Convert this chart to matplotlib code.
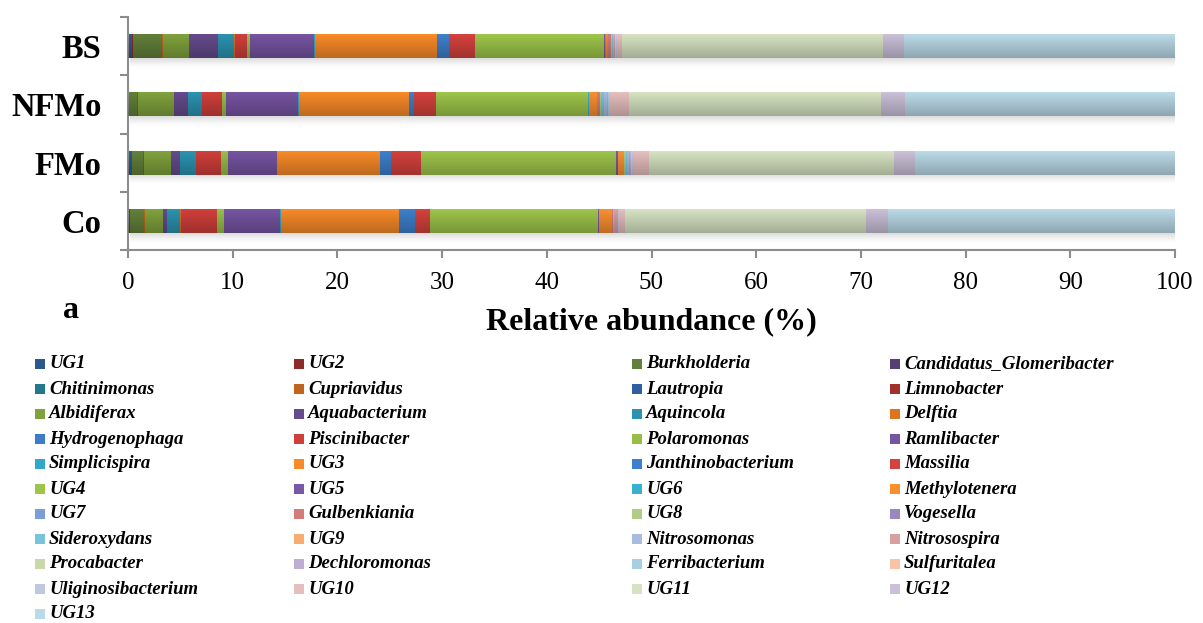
import numpy as np
import matplotlib.pyplot as plt
from matplotlib.patches import Rectangle

plt.rcParams["font.family"] = ["Liberation Serif", "DejaVu Serif"]

groups = ["Co", "FMo", "NFMo", "BS"]

species = [
    "UG1", "UG2", "Burkholderia", "Candidatus_Glomeribacter",
    "Chitinimonas", "Cupriavidus", "Lautropia", "Limnobacter",
    "Albidiferax", "Aquabacterium", "Aquincola", "Delftia",
    "Hydrogenophaga", "Piscinibacter", "Polaromonas", "Ramlibacter",
    "Simplicispira", "UG3", "Janthinobacterium", "Massilia",
    "UG4", "UG5", "UG6", "Methylotenera",
    "UG7", "Gulbenkiania", "UG8", "Vogesella",
    "Sideroxydans", "UG9", "Nitrosomonas", "Nitrosospira",
    "Procabacter", "Dechloromonas", "Ferribacterium", "Sulfuritalea",
    "Uliginosibacterium", "UG10", "UG11", "UG12",
    "UG13",
]

colors = [
    "#2c5890", "#8e2a28", "#63803a", "#553f75",
    "#23788c", "#c0651e", "#2f5f9e", "#a3302d",
    "#7fa23c", "#654b8c", "#2b93b0", "#dc7420",
    "#3d7cc8", "#cf3f3b", "#98be48", "#7654a2",
    "#31a8ca", "#f88a28", "#3e80cc", "#d4423e",
    "#9ec54a", "#7a58a8", "#38b0d0", "#f99030",
    "#7b9ed6", "#d47c7a", "#b0cc88", "#9c88be",
    "#78c2da", "#f9ac70", "#a8bce0", "#d8a0a0",
    "#c8d8a8", "#bfaed3", "#a6d0e0", "#f9c4a4",
    "#c0c8e0", "#e6bebe", "#d6e3c2", "#cac0d8",
    "#bbdae8",
]

# relative abundance (%) per sample, same order as species
co = [0, 0.16, 1.40, 0, 0, 0.06, 0, 0, 1.72, 0.38, 1.25, 0.10,
      0, 3.43, 0.67, 5.35, 0.13, 11.23, 1.53, 1.43, 16.07, 0.10, 0, 1.23,
      0, 0.05, 0.08, 0, 0, 0.04, 0.03, 0.35, 0, 0, 0, 0.02,
      0.05, 0.61, 23.02, 2.10, 27.41]
fmo = [0.35, 0, 1.08, 0, 0.10, 0, 0, 0, 2.58, 0.86, 1.53, 0,
       0, 2.38, 0.67, 4.68, 0, 9.84, 1.05, 2.87, 18.61, 0.20, 0, 0.57,
       0, 0.05, 0.10, 0.05, 0.05, 0.05, 0.15, 0.10, 0.03, 0.05, 0.05, 0.10,
       0.05, 1.56, 23.40, 2.01, 24.83]
nfmo = [0, 0, 0.89, 0, 0.07, 0, 0, 0, 3.40, 1.37, 1.31, 0,
        0, 1.94, 0.38, 6.88, 0.12, 10.48, 0.45, 2.13, 14.51, 0, 0.13, 0.74,
        0, 0.30, 0.05, 0.05, 0.25, 0.05, 0.25, 0.05, 0.02, 0.05, 0.03, 0.02,
        0.05, 1.88, 24.07, 2.29, 25.79]
bs = [0.35, 0.10, 2.83, 0, 0, 0.09, 0, 0, 2.45, 2.78, 1.50, 0.12,
      0, 1.15, 0.28, 6.12, 0.13, 11.60, 1.16, 2.48, 12.32, 0.12, 0.08, 0.10,
      0.12, 0.25, 0.05, 0.05, 0.05, 0.12, 0.05, 0.05, 0.02, 0.02, 0.02, 0.08,
      0.02, 0.54, 24.88, 2.02, 25.90]

W, H = 1203, 623
fig = plt.figure(figsize=(W / 100, H / 100), dpi=100)
ax = fig.add_axes([128 / W, 1 - 250 / H, (1175 - 128) / W, (250 - 17) / H])

data = np.array([co, fmo, nfmo, bs])
ypos = np.arange(len(groups))
bar_h = 0.41
lefts = np.zeros(len(groups))
for j, name in enumerate(species):
    ax.barh(ypos, data[:, j], left=lefts, height=bar_h, color=colors[j],
            linewidth=0, zorder=2, label=name)
    lefts += data[:, j]

# shading on the bars and soft shadow below them
shade = np.zeros((60, 1, 4))
shade[:, 0, 3] = np.linspace(0.0, 0.24, 60)
drop = np.zeros((30, 1, 4))
drop[:, 0, :3] = 0.45
drop[:, 0, 3] = np.linspace(0.35, 0.0, 30) ** 1.3
for y in ypos:
    ax.imshow(shade, extent=[0, lefts[y], y - bar_h / 2, y + bar_h / 2],
              aspect="auto", interpolation="bilinear", zorder=3)
    ax.imshow(drop, extent=[0.2, lefts[y] + 0.3, y - bar_h / 2 - 0.17, y - bar_h / 2],
              aspect="auto", interpolation="bilinear", zorder=1)

ax.set_xlim(0, 100)
ax.set_ylim(-0.5, len(groups) - 0.5)
ax.set_xticks(np.arange(0, 101, 10))
ax.set_yticks(ypos)
ax.set_yticklabels(groups)
ax.set_yticks(np.arange(-0.5, len(groups), 1), minor=True)

for side in ["top", "right"]:
    ax.spines[side].set_visible(False)
for side in ["left", "bottom"]:
    ax.spines[side].set_color("#8c8c8c")
    ax.spines[side].set_linewidth(1.5)

ax.tick_params(axis="x", direction="out", length=6, width=1.5, color="#8c8c8c",
               labelsize=18, pad=10)
ax.tick_params(axis="y", which="major", length=0, labelsize=23.5, pad=19)
ax.tick_params(axis="y", which="minor", direction="out", length=6, width=1.5,
               color="#8c8c8c")
for lab in ax.get_yticklabels():
    lab.set_fontweight("bold")

fig.text(651 / W, 1 - 322 / H, "Relative abundance (%)", ha="center", va="center",
         fontsize=23, fontweight="bold")
fig.text(71 / W, 1 - 318 / H, "a", ha="center", va="baseline",
         fontsize=23, fontweight="bold")

# legend, four columns filled row by row
col_x = [35, 294, 632, 890]
for i, (name, c) in enumerate(zip(species, colors)):
    row, col = divmod(i, 4)
    x = col_x[col]
    y = 364 + 25 * row
    fig.patches.append(Rectangle((x / W, 1 - (y + 5) / H), 10 / W, 10 / H,
                                 transform=fig.transFigure, facecolor=c,
                                 edgecolor="none"))
    fig.text((x + 14) / W, 1 - y / H, name, ha="left", va="center",
             fontsize=13.5, fontweight="bold", fontstyle="italic")

fig.savefig("out.png", dpi=100)
